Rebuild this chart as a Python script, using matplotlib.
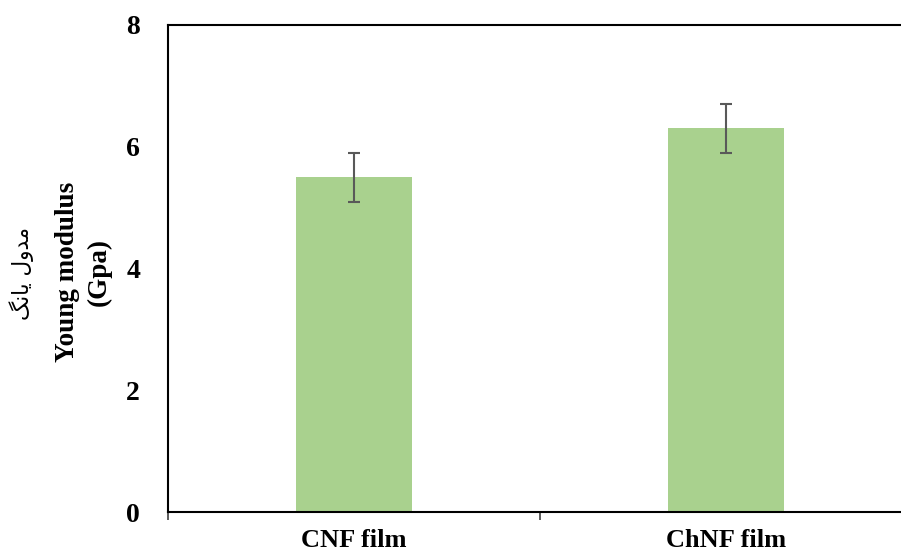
import matplotlib
matplotlib.use('Agg')
import matplotlib.pyplot as plt

categories = ['CNF film', 'ChNF film']
modulus = [5.5, 6.3]
errors = [0.4, 0.4]
yticks = [0, 2, 4, 6, 8]

# Persian label "مدول یانگ" written with presentation forms in visual order,
# because matplotlib does no Arabic shaping
fa_label = '\uFB93\uFEE7\uFE8E\uFBFE \uFEDD\uFEED\uFEAA\uFEE3'

plt.rcParams['font.family'] = ['Liberation Serif', 'DejaVu Sans']
plt.rcParams['font.weight'] = 'bold'

dpi = 100
fig = plt.figure(figsize=(901 / dpi, 550 / dpi), dpi=dpi)
ax = fig.add_axes([168 / 901, 1 - 512 / 550, 744 / 901, 487 / 550])

xs = list(range(len(categories)))
ax.bar(xs, modulus, width=0.31, color='#A9D18E', zorder=2)
ax.errorbar(xs, modulus, yerr=errors, fmt='none', ecolor='#595959',
            elinewidth=1.5, capsize=4.5, capthick=1.5, zorder=3)

ax.set_xlim(-0.5, 1.5)
ax.set_ylim(0, 8)
ax.set_yticks(yticks)
ax.set_yticklabels([str(v) for v in yticks], fontsize=20, fontweight='bold')
ax.tick_params(axis='y', length=0, pad=20)

ax.set_xticks(xs)
ax.set_xticklabels(categories, fontsize=19, fontweight='bold')
ax.tick_params(axis='x', which='major', length=0, pad=12)
ax.set_xticks([-0.5, 0.5, 1.5], minor=True)
ax.tick_params(axis='x', which='minor', length=6, width=1.2, color='#404040')

for s in ['left', 'top', 'bottom', 'right']:
    ax.spines[s].set_linewidth(1.5)
    ax.spines[s].set_color('black')

fig.text(67 / 901, 1 - 272 / 550, 'Young modulus', rotation=90, fontsize=19.5,
         fontweight='bold', ha='center', va='center')
fig.text(99 / 901, 1 - 272 / 550, '(Gpa)', rotation=90, fontsize=19.5,
         fontweight='bold', ha='center', va='center')
fig.text(22 / 901, 1 - 273 / 550, fa_label, rotation=90, fontsize=15.5,
         fontweight='normal', family=['DejaVu Sans'], ha='center', va='center')

fig.savefig('out.png', dpi=dpi)
